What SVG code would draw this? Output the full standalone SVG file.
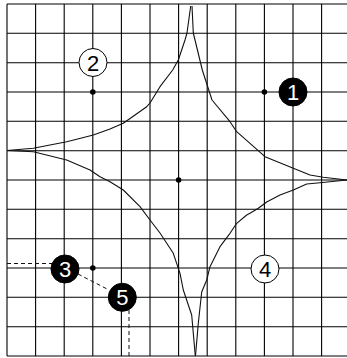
<svg xmlns="http://www.w3.org/2000/svg" width="347" height="358" viewBox="0 0 347 358">
<style>
.grid line{stroke:#000;stroke-width:1.1}
.curve{fill:none;stroke:#111;stroke-width:1.1;stroke-linejoin:round}
.dash{fill:none;stroke:#111;stroke-width:1;stroke-dasharray:4 3}
.dot{fill:#000}
.wn circle{fill:#fff;stroke:#000;stroke-width:1}
.wn text{fill:#000}
.bn circle{fill:#000;stroke:#000;stroke-width:1}
.bn text{fill:#fff}
text{font-family:"Liberation Sans",Arial,sans-serif;font-size:22px;text-anchor:middle}
</style>
<rect width="347" height="358" fill="#fff"/>
<g class="grid" id="grid">
<line x1="7" y1="4" x2="7" y2="356"/>
<line x1="35.6" y1="4" x2="35.6" y2="356"/>
<line x1="64.2" y1="4" x2="64.2" y2="356"/>
<line x1="92.8" y1="4" x2="92.8" y2="356"/>
<line x1="121.4" y1="4" x2="121.4" y2="356"/>
<line x1="150" y1="4" x2="150" y2="356"/>
<line x1="178.6" y1="4" x2="178.6" y2="356"/>
<line x1="207.2" y1="4" x2="207.2" y2="356"/>
<line x1="235.8" y1="4" x2="235.8" y2="356"/>
<line x1="264.4" y1="4" x2="264.4" y2="356"/>
<line x1="293" y1="4" x2="293" y2="356"/>
<line x1="321.6" y1="4" x2="321.6" y2="356"/>
<line x1="7" y1="4" x2="347" y2="4"/>
<line x1="7" y1="33.3" x2="347" y2="33.3"/>
<line x1="7" y1="62.7" x2="347" y2="62.7"/>
<line x1="7" y1="92" x2="347" y2="92"/>
<line x1="7" y1="121.3" x2="347" y2="121.3"/>
<line x1="7" y1="150.7" x2="347" y2="150.7"/>
<line x1="7" y1="180" x2="347" y2="180"/>
<line x1="7" y1="209.3" x2="347" y2="209.3"/>
<line x1="7" y1="238.7" x2="347" y2="238.7"/>
<line x1="7" y1="268" x2="347" y2="268"/>
<line x1="7" y1="297.3" x2="347" y2="297.3"/>
<line x1="7" y1="326.7" x2="347" y2="326.7"/>
<line x1="7" y1="356" x2="347" y2="356"/>
</g>
<g id="curves">
<polyline class="curve" points="190.7,6 187,33 185,40 178.3,60 172.7,70 160,86.7 150,103 146.7,106.7 123.3,123.3 110,129 93.3,135 76.7,139.3 66.7,141.7 33.3,148.3 7,150.5"/>
<polyline class="curve" points="7,150.5 33.3,151.7 66.7,160 90,170 100,176.7 110,181.7 123.3,190 140,206.7 150,220 160,233 173.3,253.3 180,273.3 183.3,290 191.7,315 195.3,356"/>
<polyline class="curve" points="195.5,356 198.3,323.3 201.7,292 206.7,280 210,266.7 220,246.7 230,233.3 236.7,223.3 246.7,215 250,213.3 258.3,208.3 266.7,202 280,195 293.3,190 306.7,184 320,182.7 347,180"/>
<polyline class="curve" points="347,180 323.3,177.3 310,175 293.3,168.3 265,156.7 250,143.3 236.7,131.7 230,121.7 212,100 202.3,70 193.3,33 192,6"/>
</g>
<g id="connectors">
<line class="dash" x1="7" y1="263.5" x2="52" y2="263.5"/>
<line class="dash" x1="78" y1="274" x2="109" y2="290"/>
<line class="dash" x1="129" y1="310" x2="129" y2="358"/>
</g>
<g id="dots">
<circle class="dot" cx="92.8" cy="92" r="2.8"/>
<circle class="dot" cx="264.4" cy="92" r="2.8"/>
<circle class="dot" cx="178.6" cy="180" r="2.8"/>
<circle class="dot" cx="92.8" cy="268" r="2.8"/>
</g>
<g id="node1" class="bn"><circle cx="293" cy="92" r="14"/><text x="293" y="100">1</text></g>
<g id="node2" class="wn"><circle cx="93" cy="62.5" r="14"/><text x="93" y="70.5">2</text></g>
<g id="node3" class="bn"><circle cx="65" cy="269" r="14"/><text x="65" y="277">3</text></g>
<g id="node4" class="wn"><circle cx="265" cy="269" r="14"/><text x="265" y="277">4</text></g>
<g id="node5" class="bn"><circle cx="122.3" cy="297.3" r="14"/><text x="122.3" y="305.3">5</text></g>
</svg>
